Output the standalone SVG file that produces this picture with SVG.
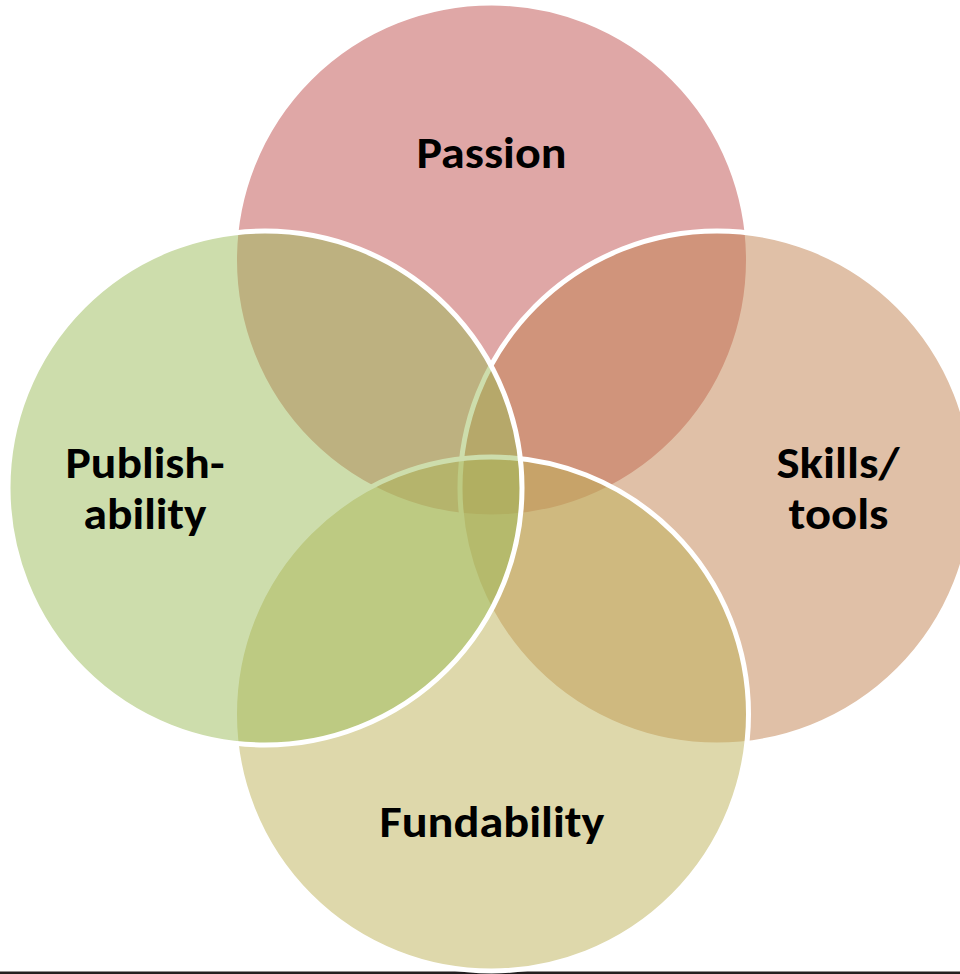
<svg xmlns="http://www.w3.org/2000/svg" width="960" height="974" viewBox="0 0 960 974">
<style>
  .c { stroke: #ffffff; stroke-width: 5; }
  .t { font-family: Carlito, Lato, "Open Sans", sans-serif; font-weight: bold; font-size: 44px; fill: #000000; text-anchor: middle; }
</style>
<rect x="0" y="0" width="960" height="974" fill="#ffffff"/>
<rect x="0" y="971.5" width="960" height="3" fill="#231f20"/>
<g id="passion">
  <circle class="c" cx="491.5" cy="260" r="257" fill="#C0504D" fill-opacity="0.5"/>
  <text class="t" x="491.5" y="168" textLength="150" lengthAdjust="spacingAndGlyphs">Passion</text>
</g>
<g id="skills-tools">
  <circle class="c" cx="717" cy="488" r="257" fill="#C1814F" fill-opacity="0.5"/>
  <text class="t" x="838" y="478" textLength="123" lengthAdjust="spacingAndGlyphs">Skills/</text>
  <text class="t" x="838.5" y="529" textLength="100" lengthAdjust="spacingAndGlyphs">tools</text>
</g>
<g id="fundability">
  <circle class="c" cx="491.5" cy="714" r="257" fill="#BDB157" fill-opacity="0.5"/>
  <text class="t" x="492" y="837" textLength="225" lengthAdjust="spacingAndGlyphs">Fundability</text>
</g>
<g id="publishability">
  <circle class="c" cx="265" cy="488" r="257" fill="#9BBB59" fill-opacity="0.5"/>
  <text class="t" x="145" y="478" textLength="159" lengthAdjust="spacingAndGlyphs">Publish-</text>
  <text class="t" x="145" y="529" textLength="123" lengthAdjust="spacingAndGlyphs">ability</text>
</g>
</svg>
